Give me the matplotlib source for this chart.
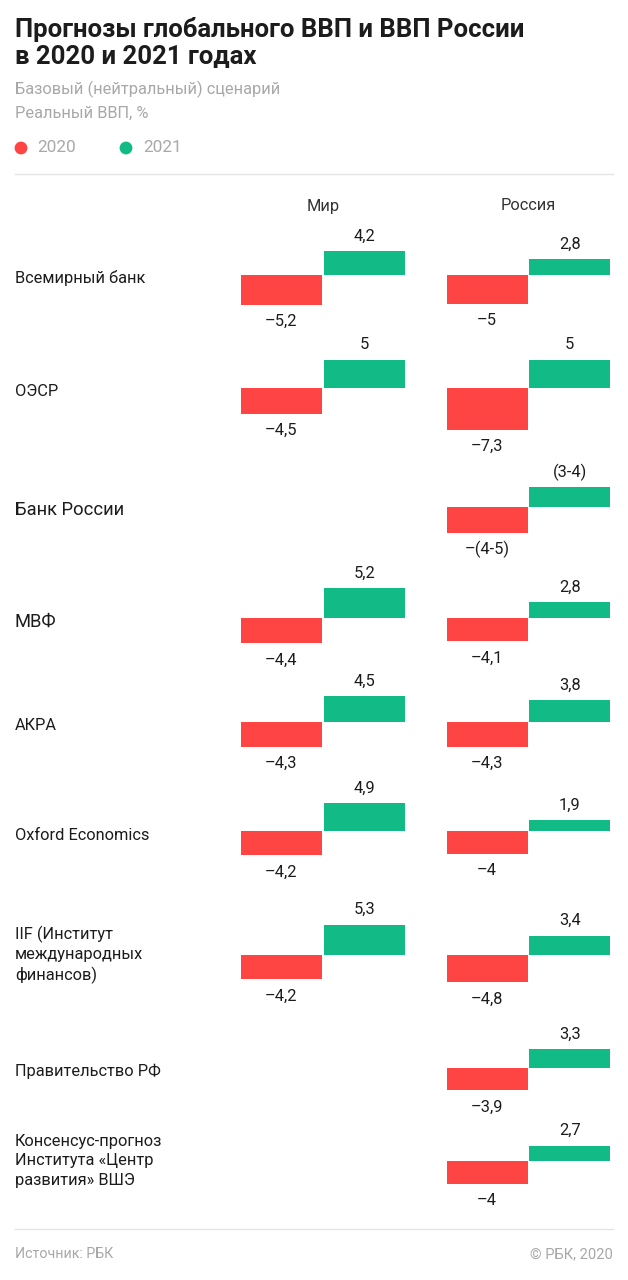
import matplotlib
matplotlib.use("Agg")
import matplotlib.pyplot as plt

plt.rcParams["font.family"] = ["Roboto", "DejaVu Sans"]

WIDTH, HEIGHT = 628, 1280
RED = "#ff4444"
GREEN = "#12bb85"
GRAY = "#a8a8a8"
INK = "#1c1c1c"
PX_PER_UNIT = 5.7

sources = [
    "Всемирный банк", "ОЭСР", "Банк России", "МВФ", "АКРА", "Oxford Economics",
    "IIF (Институт\nмеждународных\nфинансов)", "Правительство РФ",
    "Консенсус-прогноз\nИнститута «Центр\nразвития» ВШЭ",
]
# Bank of Russia gives ranges, bars show the midpoints
world_2020 = [-5.2, -4.5, None, -4.4, -4.3, -4.2, -4.2, None, None]
world_2021 = [4.2, 5, None, 5.2, 4.5, 4.9, 5.3, None, None]
russia_2020 = [-5, -7.3, -4.5, -4.1, -4.3, -4, -4.8, -3.9, -4]
russia_2021 = [2.8, 5, 3.5, 2.8, 3.8, 1.9, 3.4, 3.3, 2.7]
russia_2020_labels = ["–5", "–7,3", "–(4-5)", "–4,1", "–4,3", "–4", "–4,8", "–3,9", "–4"]
russia_2021_labels = ["2,8", "5", "(3-4)", "2,8", "3,8", "1,9", "3,4", "3,3", "2,7"]
world_2020_labels = ["–5,2", "–4,5", "", "–4,4", "–4,3", "–4,2", "–4,2", "", ""]
world_2021_labels = ["4,2", "5", "", "5,2", "4,5", "4,9", "5,3", "", ""]

baselines = [275, 388, 507, 618, 722, 831, 955, 1068, 1161]
label_y = [278, 392, 510, 622, 726, 835, 955, 1071, 1161]
label_size = [11.8, 11.8, 13.2, 13.2, 11.8, 11.8, 11.8, 11.8, 11.8]


def panel(fig, left, right, base, low, high, low_label, high_label):
    half = 70
    ax = fig.add_axes([left / WIDTH, 1 - (base + half) / HEIGHT,
                       (right - left) / WIDTH, 2 * half / HEIGHT])
    ax.set_xlim(-1, 1)
    ax.set_ylim(-half / PX_PER_UNIT, half / PX_PER_UNIT)
    ax.axis("off")
    ax.patch.set_alpha(0)
    ax.bar([-0.5], [low], width=0.985, color=RED, linewidth=0)
    ax.bar([0.5], [high], width=0.985, color=GREEN, linewidth=0)
    ax.annotate(low_label, (-0.5, low), xytext=(0, -17 * 0.72), textcoords="offset points",
                ha="center", va="center", fontsize=11.8, color=INK)
    ax.annotate(high_label, (0.5, high), xytext=(0, 15 * 0.72), textcoords="offset points",
                ha="center", va="center", fontsize=11.8, color=INK)


fig = plt.figure(figsize=(WIDTH / 100, HEIGHT / 100), dpi=100, facecolor="white")
page = fig.add_axes([0, 0, 1, 1])
page.set_xlim(0, WIDTH)
page.set_ylim(HEIGHT, 0)
page.axis("off")

page.text(15, 30, "Прогнозы глобального ВВП и ВВП России", fontsize=18.5, fontweight="bold",
          color=INK, va="center")
page.text(15, 57, "в 2020 и 2021 годах", fontsize=18.5, fontweight="bold", color=INK, va="center")
page.text(15, 89, "Базовый (нейтральный) сценарий", fontsize=11.8, color=GRAY, va="center")
page.text(15, 113, "Реальный ВВП, %", fontsize=11.8, color=GRAY, va="center")
page.scatter([21, 126], [148, 148], s=85, color=[RED, GREEN], linewidth=0)
page.text(37, 148, "2020", fontsize=12.4, color=GRAY, va="center")
page.text(143, 148, "2021", fontsize=12.4, color=GRAY, va="center")
page.plot([15, 613], [174, 174], color="#e4e4e4", lw=1)
page.plot([15, 613], [1229, 1229], color="#e4e4e4", lw=1)
page.text(323, 206, "Мир", fontsize=11.8, color="#333333", ha="center", va="center")
page.text(528, 206, "Россия", fontsize=11.8, color="#333333", ha="center", va="center")
page.text(15, 1254, "Источник: РБК", fontsize=10.3, color=GRAY, va="center")
page.text(613, 1254, "© РБК, 2020", fontsize=10.6, color=GRAY, ha="right", va="center")

for i, name in enumerate(sources):
    page.text(15, label_y[i], name, fontsize=label_size[i], color=INK, va="center", linespacing=1.34)
    if world_2020[i] is not None:
        panel(fig, 240, 406, baselines[i], world_2020[i], world_2021[i],
              world_2020_labels[i], world_2021_labels[i])
    panel(fig, 446, 611, baselines[i], russia_2020[i], russia_2021[i],
          russia_2020_labels[i], russia_2021_labels[i])

fig.savefig("out.png", dpi=100)
